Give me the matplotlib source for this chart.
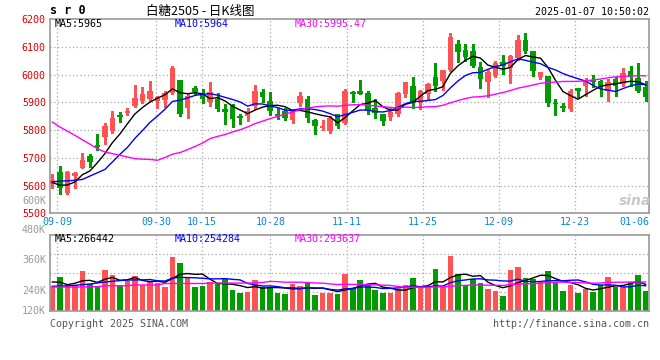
import matplotlib
matplotlib.use('Agg')
import matplotlib.pyplot as plt
import matplotlib.transforms as mtransforms
import pandas as pd

dates = ['09-06', '09-09', '09-10', '09-11', '09-12', '09-13', '09-18', '09-19', '09-20', '09-23',
         '09-24', '09-25', '09-26', '09-27', '09-30', '10-08', '10-09', '10-10', '10-11', '10-14',
         '10-15', '10-16', '10-17', '10-18', '10-21', '10-22', '10-23', '10-24', '10-25', '10-28',
         '10-29', '10-30', '10-31', '11-01', '11-04', '11-05', '11-06', '11-07', '11-08', '11-11',
         '11-12', '11-13', '11-14', '11-15', '11-18', '11-19', '11-20', '11-21', '11-22', '11-25',
         '11-26', '11-27', '11-28', '11-29', '12-02', '12-03', '12-04', '12-05', '12-06', '12-09',
         '12-10', '12-11', '12-12', '12-13', '12-16', '12-17', '12-18', '12-19', '12-20', '12-23',
         '12-24', '12-25', '12-26', '12-27', '12-30', '12-31', '01-02', '01-03', '01-06', '01-07']

opens = [5607, 5649, 5572, 5634, 5665, 5708, 5745, 5775, 5796, 5855,
         5861, 5885, 5906, 5910, 5904, 5909, 5934, 5982, 5879, 5952,
         5933, 5900, 5912, 5874, 5885, 5849, 5849, 5885, 5936, 5903,
         5856, 5868, 5835, 5897, 5910, 5835, 5807, 5796, 5858, 5825,
         5936, 5942, 5933, 5879, 5856, 5847, 5858, 5930, 5960, 5900,
         5930, 5990, 5976, 6016, 6109, 6089, 6083, 6028, 5972, 5996,
         6046, 6023, 6058, 6125, 6083, 5990, 5996, 5897, 5888, 5876,
         5952, 5958, 5980, 5978, 5942, 5984, 5966, 6011, 5986, 5954]
highs = [5641, 5670, 5653, 5650, 5717, 5712, 5784, 5825, 5867, 5864,
         5880, 5964, 5956, 5978, 5923, 5942, 6029, 5982, 5930, 5958,
         5948, 5974, 5934, 5894, 5892, 5859, 5880, 5962, 5948, 5936,
         5880, 5880, 5876, 5936, 5921, 5841, 5835, 5849, 5858, 5948,
         5942, 5980, 5939, 5912, 5858, 5880, 5936, 5974, 5992, 5946,
         5968, 6041, 6018, 6148, 6124, 6110, 6109, 6044, 6016, 6047,
         6071, 6071, 6143, 6148, 6083, 6010, 5996, 5910, 5897, 5948,
         5952, 5988, 5998, 5980, 5984, 5990, 6023, 6032, 6040, 5975]
lows = [5590, 5568, 5570, 5592, 5662, 5668, 5727, 5751, 5789, 5829,
        5853, 5882, 5897, 5906, 5879, 5882, 5930, 5850, 5843, 5928,
        5897, 5888, 5868, 5820, 5811, 5820, 5832, 5876, 5900, 5853,
        5841, 5837, 5825, 5888, 5829, 5787, 5801, 5789, 5808, 5823,
        5900, 5928, 5856, 5844, 5817, 5835, 5849, 5918, 5879, 5876,
        5910, 5940, 5945, 6011, 6046, 6050, 6026, 5952, 5918, 5990,
        6002, 5968, 6052, 6076, 5994, 5984, 5885, 5855, 5870, 5870,
        5918, 5924, 5954, 5922, 5906, 5924, 5960, 5960, 5936, 5904]
closes = [5619, 5590, 5649, 5646, 5691, 5686, 5739, 5813, 5844, 5847,
          5870, 5916, 5928, 5942, 5918, 5932, 6022, 5858, 5924, 5936,
          5912, 5936, 5876, 5864, 5841, 5844, 5870, 5940, 5918, 5868,
          5850, 5844, 5870, 5921, 5843, 5814, 5814, 5844, 5814, 5942,
          5930, 5928, 5870, 5862, 5832, 5864, 5933, 5972, 5897, 5942,
          5966, 5958, 6016, 6136, 6080, 6064, 6032, 5984, 6010, 6040,
          6029, 6065, 6125, 6083, 6014, 6008, 5897, 5894, 5879, 5942,
          5942, 5980, 5972, 5950, 5972, 5960, 6004, 5992, 5942, 5918]
volumes = [249500, 343400, 259600, 265600, 407000, 272700, 239400, 417100, 360600, 259600,
           300000, 356500, 265600, 300000, 282800, 242400, 545400, 484800, 336300, 242400,
           252500, 289900, 269700, 323200, 212100, 184800, 194900, 313100, 245400, 245400,
           184800, 171700, 269700, 255500, 285800, 161600, 184800, 178800, 171700, 370700,
           229300, 313100, 272700, 212100, 178800, 178800, 219200, 262600, 336300, 229300,
           229300, 424200, 245400, 555500, 370700, 262600, 320200, 279800, 222200, 202000,
           151500, 414100, 441400, 336300, 323200, 289900, 404000, 279800, 202000, 262600,
           178800, 222200, 194900, 262600, 346400, 245400, 239400, 289900, 363600, 202000]

ma5_head = [5611, 5601, 5602, 5613]
ma10_head = [5613, 5616, 5617, 5619, 5622, 5634, 5646, 5658, 5685]
ma30_head = [5829, 5811, 5796, 5781, 5765, 5749, 5733, 5721, 5715, 5709,
             5703, 5697, 5695, 5694, 5691, 5701, 5713, 5719, 5729, 5741,
             5753, 5769, 5777, 5784, 5793, 5801, 5811, 5823, 5832]
vol_ma5_head = [292900, 291000, 265600, 279800]
vol_ma10_head = [249500, 252500, 252500, 259600, 266600, 272700, 282800, 292900, 300000]
vol_ma30_head = [242000, 242000, 242000, 242000, 242000, 244000, 246000, 255000, 255000, 255000,
                 255000, 263000, 263000, 263000, 263000, 278000, 278000, 278000, 278000, 278000,
                 278000, 282000, 282000, 282000, 282000, 282000, 282000, 284000, 288000]

tick_dates = ['09-09', '09-30', '10-15', '10-28', '11-11', '11-25', '12-09', '12-23', '01-06']
price_ticks = [5500, 5600, 5700, 5800, 5900, 6000, 6100, 6200]
vol_tick_labels = ['600K', '480K', '360K', '240K', '120K']


def moving(values, n, head):
    s = pd.Series(values, dtype=float).rolling(n).mean()
    s.iloc[:len(head)] = head
    return s


ma5 = moving(closes, 5, ma5_head)
ma10 = moving(closes, 10, ma10_head)
ma30 = moving(closes, 30, ma30_head)
vma5 = moving(volumes, 5, vol_ma5_head)
vma10 = moving(volumes, 10, vol_ma10_head)
vma30 = moving(volumes, 30, vol_ma30_head)

W, H = 660, 360
MONO = 'DejaVu Sans Mono'
CJK = ['Noto Sans CJK SC', 'DejaVu Sans']
RED = '#ff5252'
GREEN = '#009c00'
GRID = '#a8a8a8'
FRAME = '#999999'
DATE_BLUE = '#0a86d6'

fig = plt.figure(figsize=(6.6, 3.6), dpi=100)
fig.patch.set_facecolor('white')


def rect(left, top, right, bottom):
    return [left / W, 1 - bottom / H, (right - left) / W, (bottom - top) / H]


ax = fig.add_axes(rect(50, 19, 649.3, 213.3))
axv = fig.add_axes(rect(50, 234.7, 649.3, 311))

x = list(range(len(dates)))
xlim = (-0.31, 79.49)
# sina's vertical grid drifts slightly against the candle spacing
GRID_STEP, GRID_SHIFT = 1.0137, -0.35
grid_pos = [dates.index(d) * GRID_STEP + GRID_SHIFT for d in tick_dates]

for a in (ax, axv):
    a.set_xlim(*xlim)
    a.set_xticks([])
    for sp in a.spines.values():
        sp.set_color(FRAME)
        sp.set_linewidth(1.2)
    for gx in grid_pos[:-1]:
        a.axvline(gx, color=GRID, lw=0.9, ls=(0, (1, 2)), zorder=0)

# price panel
ax.set_ylim(5500, 6200)
for p in price_ticks[1:-1]:
    ax.axhline(p, color=GRID, lw=0.9, ls=(0, (1, 2)), zorder=0)
ax.set_yticks(price_ticks)
ax.set_yticklabels([str(p) for p in price_ticks], color='#e00000', family=MONO, fontsize=7.2)
ax.tick_params(axis='y', length=0, pad=3)

for i in x:
    up = closes[i] >= opens[i]
    col = RED if up else GREEN
    ax.vlines(i, lows[i], highs[i], color=col, lw=1, antialiased=False, zorder=2)
    lo = min(opens[i], closes[i])
    hgt = max(abs(closes[i] - opens[i]), 3)
    ax.bar(i, hgt, bottom=lo, width=0.74, color=col, lw=0, antialiased=False, zorder=3)

ax.plot(x, ma5, color='black', lw=1, zorder=4)
ax.plot(x, ma10, color='#0000ff', lw=1, zorder=4)
ax.plot(x, ma30, color='#ff00ff', lw=1, zorder=4)

# date labels under the price panel
trans = mtransforms.blended_transform_factory(ax.transData, ax.transAxes)
for d, gx in zip(tick_dates, grid_pos):
    if gx > xlim[1] - 2.3:
        ax.text(1.0, -0.043, d, transform=ax.transAxes, ha='right', va='center',
                color=DATE_BLUE, family=MONO, fontsize=7.2)
    else:
        ax.text(gx, -0.043, d, transform=trans, ha='center', va='center',
                color=DATE_BLUE, family=MONO, fontsize=7.2)

# volume panel
vtop = 770600
axv.set_ylim(0, vtop)
axv.set_yticks([])
for f in (0.25, 0.5, 0.75):
    axv.axhline(vtop * f, color=GRID, lw=0.9, ls=(0, (1, 2)), zorder=0)
vcol = [RED if closes[i] >= opens[i] else GREEN for i in x]
axv.bar(x, volumes, width=0.74, color=vcol, lw=0, antialiased=False, zorder=2)
axv.plot(x, vma5, color='black', lw=1, zorder=4)
axv.plot(x, vma10, color='#0000ff', lw=1, zorder=4)
axv.plot(x, vma30, color='#ff00ff', lw=1, zorder=4)

vol_label_px = [200.5, 230, 260, 290.5, 311]
for lab, py in zip(vol_tick_labels, vol_label_px):
    axv.text(-4 / 599.3, (311 - py) / 76.3, lab, transform=axv.transAxes, ha='right',
             va='center', color='#9a9a9a', family=MONO, fontsize=7.2, clip_on=False)


def ftext(px, py, s, **kw):
    fig.text(px / W, 1 - py / H, s, **kw)


# header
ftext(50, 11, 's r 0', family=MONO, fontsize=8.5, weight='bold', ha='left', va='center')
ftext(200, 11, '白糖2505 - 日K线图', family=CJK, fontsize=9, ha='center', va='center')
ftext(649, 12, '2025-01-07 10:50:02', family=MONO, fontsize=7.2, ha='right', va='center')

# moving-average readouts
for px, s, c in [(55, 'MA5:5965', 'black'), (175, 'MA10:5964', '#0000ff'),
                 (295, 'MA30:5995.47', '#ff00ff')]:
    ftext(px, 24, s, family=MONO, fontsize=7.2, color=c, ha='left', va='center')
for px, s, c in [(55, 'MA5:266442', 'black'), (175, 'MA10:254284', '#0000ff'),
                 (295, 'MA30:293637', '#ff00ff')]:
    ftext(px, 238.5, s, family=MONO, fontsize=7.2, color=c, ha='left', va='center')

# watermark and footer
ftext(635, 201, 'sina', family='DejaVu Sans', fontsize=10, style='italic', weight='bold',
      color='#c8c8c8', ha='center', va='center')
ftext(50, 324, 'Copyright 2025 SINA.COM', family=MONO, fontsize=7.2, color='#555555',
      ha='left', va='center')
ftext(649, 324, 'http://finance.sina.com.cn', family=MONO, fontsize=7.2, color='#555555',
      ha='right', va='center')

fig.savefig('out.png', dpi=100)
